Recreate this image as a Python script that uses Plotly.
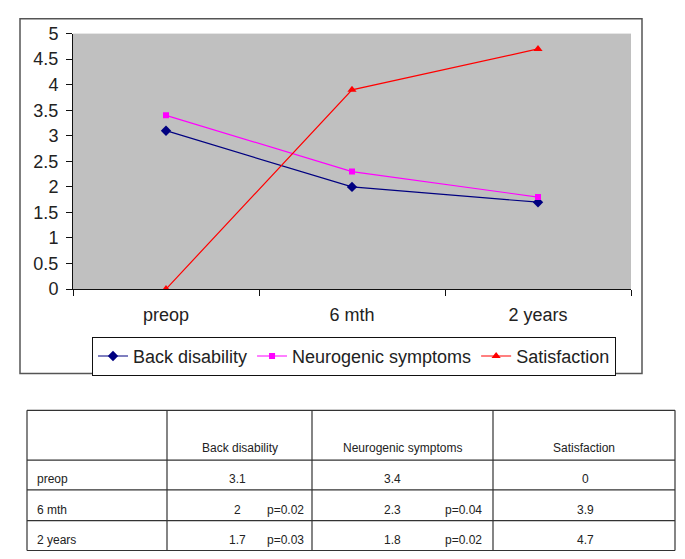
import plotly.graph_objects as go

W, H = 685, 559

categories = ["preop", "6 mth", "2 years"]
back_disability = [3.1, 2, 1.7]
neurogenic = [3.4, 2.3, 1.8]
satisfaction = [0, 3.9, 4.7]
p_back = ["", "p=0.02", "p=0.03"]
p_neuro = ["", "p=0.04", "p=0.02"]
series_names = ["Back disability", "Neurogenic symptoms", "Satisfaction"]
y_ticks = [0, 0.5, 1, 1.5, 2, 2.5, 3, 3.5, 4, 4.5, 5]


# map target screen pixels (as seen in the photographed page) to paper coords
def px(x):
    return (x - 8) / W


def py(y):
    fy = (y - 16.3) / 0.97
    fy = max(fy, 0.8)
    return 1 - fy / H


fig = go.Figure()
styles = [
    (back_disability, "#000080", "diamond", 8),
    (neurogenic, "#FF00FF", "square", 6),
    (satisfaction, "#FF0000", "triangle-up", 8),
]
for name, (vals, col, sym, sz) in zip(series_names, styles):
    fig.add_trace(go.Scatter(
        x=categories, y=vals, name=name, mode="lines+markers",
        line=dict(color=col, width=1.2),
        marker=dict(symbol=sym, size=sz, color=col),
    ))

font_family = "Liberation Sans, Arial, sans-serif"

fig.update_layout(
    width=W, height=H,
    margin=dict(l=0, r=0, t=0, b=0),
    paper_bgcolor="white",
    plot_bgcolor="#C0C0C0",
    font=dict(family=font_family, size=18, color="#222"),
    showlegend=True,
    legend=dict(
        orientation="h", x=px(92), y=py(337), xanchor="left", yanchor="top",
        bgcolor="white", bordercolor="#111", borderwidth=1,
        font=dict(size=18, color="#222"),
        itemwidth=30, tracegroupgap=0,
    ),
    xaxis=dict(
        domain=[px(73), px(631)],
        type="category", range=[-0.5, 2.5],
        showline=True, linecolor="#111", linewidth=1,
        ticks="outside", tickson="boundaries", ticklen=6, tickcolor="#111",
        showgrid=False, zeroline=False,
        ticklabelstandoff=9,
        tickfont=dict(size=18, color="#222"),
    ),
    yaxis=dict(
        domain=[py(289), py(32)],
        range=[0, 5], tickvals=y_ticks,
        ticktext=[f"{v:g}" for v in y_ticks],
        showline=True, linecolor="#111", linewidth=1,
        ticks="outside", ticklen=6, tickcolor="#111",
        showgrid=False, zeroline=False,
        ticklabelstandoff=4,
        tickfont=dict(size=18, color="#222"),
    ),
)

shapes = []
# outer chart border
shapes.append(dict(type="rect", xref="paper", yref="paper",
                   x0=px(20), x1=px(642), y0=py(374), y1=py(6),
                   line=dict(color="#555", width=1.5), layer="below"))

# table grid
col_x = [27, 167, 312, 493, 675]
row_y = [411, 461, 491, 522, 552]
for x in col_x:
    shapes.append(dict(type="line", xref="paper", yref="paper",
                       x0=px(x), x1=px(x), y0=py(row_y[0]), y1=py(row_y[-1]),
                       line=dict(color="#333", width=1.2)))
for y in row_y:
    shapes.append(dict(type="line", xref="paper", yref="paper",
                       x0=px(col_x[0]), x1=px(col_x[-1]), y0=py(y), y1=py(y),
                       line=dict(color="#333", width=1.2)))

ann = []
tf = dict(family=font_family, size=12, color="#222")


def txt(x, y, s, anchor="center"):
    ann.append(dict(xref="paper", yref="paper", x=px(x), y=py(y), text=s,
                    showarrow=False, xanchor=anchor, yanchor="middle", font=tf))


# header
header_x = [239.5, 402, 584]
for hx, nm in zip(header_x, series_names):
    txt(hx, 449, nm)

row_text_y = [480, 511, 541]
for i, cat in enumerate(categories):
    ry = row_text_y[i]
    txt(35, ry, cat, "left")
    txt(237, ry, f"{back_disability[i]:g}")
    if p_back[i]:
        txt(285, ry, p_back[i])
    txt(392, ry, f"{neurogenic[i]:g}")
    if p_neuro[i]:
        txt(463, ry, p_neuro[i])
    txt(585, ry, f"{satisfaction[i]:g}")

fig.update_layout(shapes=shapes, annotations=ann)

fig.write_html("out.html")
